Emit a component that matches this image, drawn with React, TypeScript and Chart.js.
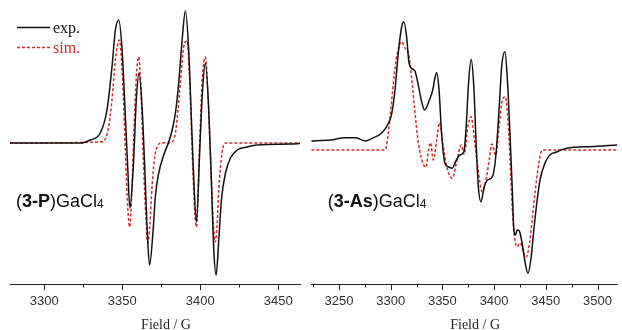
import React, { useEffect, useRef } from "react";
import { Chart, registerables } from "chart.js";

Chart.register(...registerables);

// ---------- Data (field in G, intensity in arbitrary units) ----------
const P_EXP_FIELD = [3278, 3323.1, 3329.5, 3335.9, 3340.2, 3343.4, 3345.6, 3347.7, 3349.9, 3352.0, 3353.5, 3354.9, 3357.3, 3359.0, 3360.8, 3362.7, 3364.4, 3365.9, 3367.5, 3369.8, 3371.2, 3373.4, 3376.6, 3379.8, 3382.0, 3384.1, 3386.2, 3388.4, 3390.5, 3392.6, 3394.3, 3395.8, 3397.6, 3399.7, 3401.4, 3403.3, 3405.4, 3407.2, 3408.7, 3410.2, 3411.9, 3413.6, 3416.2, 3419.4, 3423.7, 3430.1, 3436.5, 3457.9, 3464];
const P_EXP_INT = [0, 0, 3, 10, 33, 76, 113, 123, 93, 26, -24, -65, -17, 43, 70, 36, -24, -84, -122, -87, -54, -30, -12, 1, 13, 30, 60, 103, 132, 93, 26, -34, -79, -7, 50, 80, 36, -40, -107, -132, -97, -57, -30, -15, -7, -4, -2, -1, -0.5];

const P_SIM_FIELD = [3278, 3335.9, 3339.1, 3341.3, 3343.4, 3345.6, 3348.1, 3350.3, 3352.0, 3353.5, 3354.7, 3356.2, 3357.3, 3359.0, 3360.5, 3362.1, 3363.7, 3365.1, 3366.4, 3367.7, 3369.1, 3370.8, 3372.7, 3374.4, 3380.9, 3384.1, 3385.7, 3387.3, 3389.4, 3391.6, 3393.3, 3394.8, 3396.3, 3397.6, 3398.5, 3399.5, 3401.2, 3403.3, 3405.1, 3407.0, 3408.5, 3409.7, 3410.8, 3411.9, 3414.0, 3416.2, 3464];
const P_SIM_INT = [0, 1, 4, 16, 43, 83, 103, 60, -7, -64, -84, -47, 3, 66, 86, 50, -24, -72, -100, -82, -44, -14, -3, 0, 0.5, 10, 33, 60, 96, 102, 60, -7, -64, -84, -57, -7, 60, 86, 43, -30, -82, -99, -82, -47, -10, 0, 0];

const AS_EXP_FIELD = [3223.4, 3228.1, 3242.4, 3255.0, 3266.2, 3275.7, 3282.1, 3291.6, 3297.9, 3301.1, 3304.2, 3307.4, 3310.6, 3312.8, 3315.4, 3317.6, 3320.1, 3323.3, 3326.4, 3329.6, 3332.8, 3337.5, 3340.7, 3343.0, 3344.5, 3346.8, 3349.2, 3352.5, 3355.6, 3359.4, 3363.5, 3366.8, 3370.8, 3373.0, 3375.3, 3377.8, 3380.4, 3382.5, 3384.8, 3387.3, 3390.5, 3393.7, 3398.4, 3401.6, 3404.8, 3407.3, 3410.5, 3412.7, 3415.3, 3417.5, 3419.1, 3420.6, 3422.2, 3424.4, 3427.0, 3430.1, 3432.7, 3435.5, 3438.1, 3441.3, 3444.4, 3449.2, 3453.9, 3460.3, 3464.4, 3477.1, 3492.9, 3519];
const AS_EXP_INT = [2, 2.3, 3, 5.3, 5.3, 2, 4.7, 10.3, 19.7, 29.7, 53, 90, 116, 121.3, 106.3, 81.3, 74.7, 72.3, 59.7, 43, 33, 43, 53, 66, 70.3, 53, 10, -20.3, -23.7, -25.3, -17, -12, -8.7, 16.3, 60, 83.7, 56.3, 3, -43.7, -58.7, -43.7, -37, -33.7, -13.7, 33, 76.3, 91.3, 66.3, 10, -43.7, -87, -92, -87, -88, -100, -120, -130.3, -117, -90, -60, -37, -20, -12, -9, -7, -4.3, -3.7, -2];

const AS_SIM_FIELD = [3223.4, 3294.7, 3296.9, 3299.5, 3302.6, 3306.4, 3310.6, 3313.8, 3317.6, 3320.7, 3323.3, 3326.1, 3330.2, 3334.0, 3336.6, 3338.5, 3341.3, 3344.5, 3347.3, 3350.9, 3355.0, 3359.7, 3363.5, 3368.3, 3371.1, 3374.6, 3377.8, 3381.0, 3384.2, 3388.4, 3392.1, 3395.3, 3397.8, 3401.6, 3404.8, 3408.0, 3410.8, 3412.7, 3415.3, 3417.5, 3419.7, 3422.2, 3425.4, 3428.6, 3430.8, 3434.3, 3438.1, 3441.9, 3445.1, 3447.6, 3519];
const AS_SIM_INT = [-7, -7, 3, 26.3, 59.7, 89.7, 101.3, 95, 88, 61, 33, 5, -17, -24.3, -7, 0.3, -17, 3, 20.3, -3.7, -27, -35.3, -20.3, -2, -11.5, 16, 26.3, 3, -23.7, -48.7, -37, -17, -1, -12, 16.3, 43, 46.3, 33, -13.7, -63.7, -93.7, -103.7, -100, -110, -114.3, -100, -63.7, -30, -10, -7, -7];

// ---------- Axes / labels ----------
const P_RANGE = [3278, 3464];
const AS_RANGE = [3223, 3519];
const P_MAJOR = [3300, 3350, 3400, 3450];
const P_MINOR = [3325, 3375, 3425];
const AS_MAJOR = [3250, 3300, 3350, 3400, 3450, 3500];
const AS_MINOR = [3225, 3275, 3325, 3375, 3425, 3475];
const Y_RANGE = [-141, 140];
const X_TITLE = "Field / G";
const LEGEND = ["exp.", "sim."];
const P_LABEL = [
  { t: "(", b: false, s: false },
  { t: "3-P", b: true, s: false },
  { t: ")GaCl", b: false, s: false },
  { t: "4", b: false, s: true },
];
const AS_LABEL = [
  { t: "(", b: false, s: false },
  { t: "3-As", b: true, s: false },
  { t: ")GaCl", b: false, s: false },
  { t: "4", b: false, s: true },
];

const EXP_COLOR = "#111111";
const SIM_COLOR = "#d02c2c";
const SANS = 'Arial, "Liberation Sans", Helvetica, sans-serif';
const SERIF = '"Times New Roman", "Liberation Serif", Times, serif';

function zip(fx: number[], iy: number[]) {
  return fx.map((f, i) => ({ x: f, y: iy[i] }));
}

function makeDecor(opts: {
  major: number[];
  minor: number[];
  label: { t: string; b: boolean; s: boolean }[];
  labelX: number;
  legend: boolean;
}) {
  return {
    id: "decor",
    afterDraw(chart: any) {
      const ctx = chart.ctx as CanvasRenderingContext2D;
      const xs = chart.scales.x;
      const area = chart.chartArea;
      const bottom = Math.round(area.bottom);
      ctx.save();
      // outward ticks
      ctx.strokeStyle = "#222";
      ctx.lineWidth = 1;
      ctx.beginPath();
      for (const v of opts.major) {
        const px = Math.round(xs.getPixelForValue(v)) + 0.5;
        ctx.moveTo(px, bottom);
        ctx.lineTo(px, bottom + 6);
      }
      for (const v of opts.minor) {
        const px = Math.round(xs.getPixelForValue(v)) + 0.5;
        ctx.moveTo(px, bottom);
        ctx.lineTo(px, bottom + 3.5);
      }
      ctx.stroke();

      // axis title
      ctx.fillStyle = "#222";
      ctx.font = `14px ${SERIF}`;
      ctx.textAlign = "center";
      ctx.textBaseline = "alphabetic";
      ctx.fillText(X_TITLE, (area.left + area.right) / 2 + 11, 329);

      // compound label
      ctx.textAlign = "left";
      let x = opts.labelX;
      const base = 206.5;
      for (const p of opts.label) {
        ctx.font = p.s ? `12px ${SANS}` : `${p.b ? "bold " : ""}18px ${SANS}`;
        ctx.fillStyle = "#111";
        ctx.fillText(p.t, x, p.s ? base + 1 : base);
        x += ctx.measureText(p.t).width;
      }

      if (opts.legend) {
        const ds = chart.data.datasets;
        const rows = [27.5, 47.5];
        ds.forEach((d: any, i: number) => {
          ctx.beginPath();
          ctx.strokeStyle = d.borderColor;
          ctx.lineWidth = d.borderWidth;
          ctx.setLineDash(d.borderDash || []);
          ctx.moveTo(17, rows[i]);
          ctx.lineTo(50, rows[i]);
          ctx.stroke();
          ctx.setLineDash([]);
          ctx.font = `16px ${SERIF}`;
          ctx.fillStyle = d.borderColor;
          ctx.textBaseline = "alphabetic";
          ctx.fillText(d.label, 53, rows[i] + 5);
        });
      }
      ctx.restore();
    },
  };
}

function makeConfig(
  expF: number[],
  expI: number[],
  simF: number[],
  simI: number[],
  range: number[],
  major: number[],
  minor: number[],
  padding: any,
  label: any,
  labelX: number,
  legend: boolean
): any {
  return {
    type: "line",
    data: {
      datasets: [
        {
          label: LEGEND[0],
          data: zip(expF, expI),
          borderColor: EXP_COLOR,
          borderWidth: 1.5,
          pointRadius: 0,
          cubicInterpolationMode: "monotone",
          fill: false,
        },
        {
          label: LEGEND[1],
          data: zip(simF, simI),
          borderColor: SIM_COLOR,
          borderWidth: 1.5,
          borderDash: [3, 2],
          pointRadius: 0,
          cubicInterpolationMode: "monotone",
          fill: false,
        },
      ],
    },
    options: {
      responsive: false,
      animation: false,
      devicePixelRatio: 1,
      layout: { padding },
      plugins: { legend: { display: false }, tooltip: { enabled: false } },
      events: [],
      scales: {
        x: {
          type: "linear",
          min: range[0],
          max: range[1],
          afterBuildTicks: (scale: any) => {
            scale.ticks = major.map((v) => ({ value: v }));
          },
          grid: { display: false, drawTicks: false },
          border: { display: true, color: "#222", width: 1 },
          ticks: {
            autoSkip: false,
            maxRotation: 0,
            padding: 10,
            color: "#333",
            font: { family: SANS, size: 13, lineHeight: 1.2 },
            callback: (v: any) => String(v),
          },
        },
        y: {
          display: false,
          min: Y_RANGE[0],
          max: Y_RANGE[1],
        },
      },
    },
    plugins: [makeDecor({ major, minor, label, labelX, legend })],
  };
}

function Panel(props: { config: any; left: number; width: number }) {
  const ref = useRef<HTMLCanvasElement | null>(null);
  useEffect(() => {
    if (!ref.current) return;
    const chart = new Chart(ref.current, props.config);
    return () => chart.destroy();
  }, []);
  return (
    <canvas
      ref={ref}
      width={props.width}
      height={330}
      style={{ position: "absolute", left: props.left, top: 0, width: props.width, height: 330, display: "block" }}
    />
  );
}

export default function App() {
  const leftCfg = makeConfig(
    P_EXP_FIELD, P_EXP_INT, P_SIM_FIELD, P_SIM_INT, P_RANGE, P_MAJOR, P_MINOR,
    { left: 10, right: 11, top: 3, bottom: 10.4 }, P_LABEL, 16, true
  );
  const rightCfg = makeConfig(
    AS_EXP_FIELD, AS_EXP_INT, AS_SIM_FIELD, AS_SIM_INT, AS_RANGE, AS_MAJOR, AS_MINOR,
    { left: 0, right: 0, top: 3, bottom: 10.4 }, AS_LABEL, 16.7, false
  );
  return (
    <div style={{ position: "fixed", left: 0, top: 0, width: 622, height: 330, overflow: "hidden", background: "#fff" }}>
      <Panel config={leftCfg} left={0} width={311} />
      <Panel config={rightCfg} left={311} width={311} />
    </div>
  );
}
